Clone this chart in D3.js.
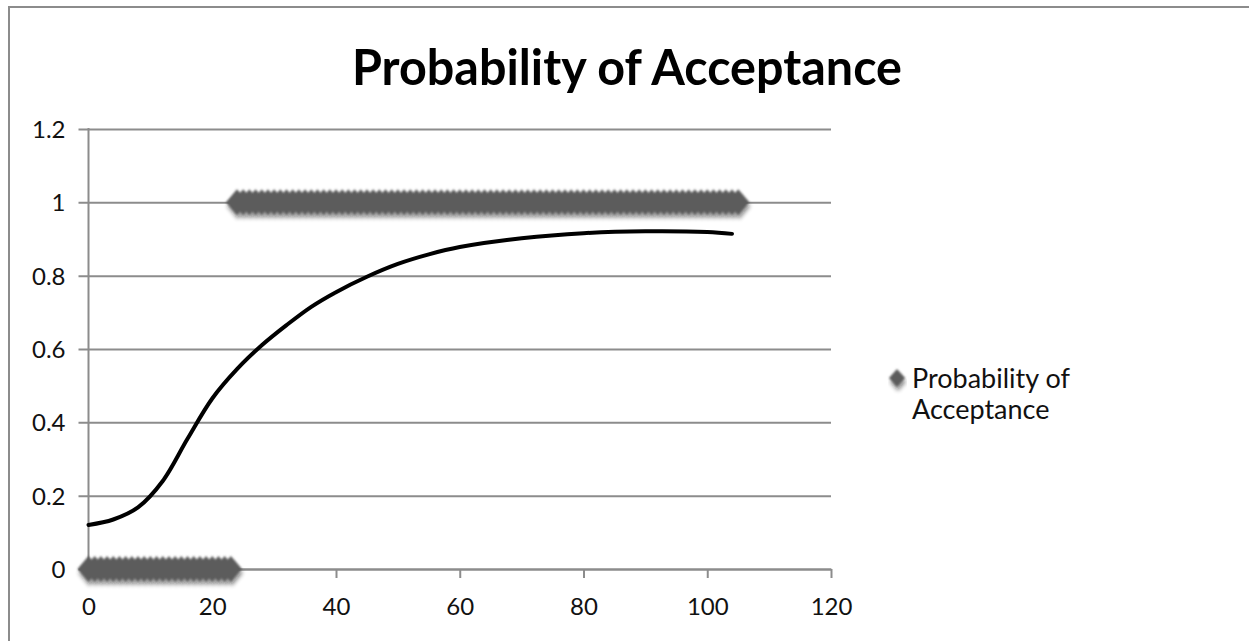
<!DOCTYPE html>
<html>
<head>
<meta charset="utf-8">
<script src="https://cdn.jsdelivr.net/npm/d3@7"></script>
<style>
  html, body { margin: 0; padding: 0; background: #fff; }
  svg { display: block; }
</style>
</head>
<body>
<svg id="chart" width="1249" height="641"></svg>
<script>
// Observations: quantity (x) and accepted (1) / rejected (0) outcome
const rejectedX = [0,1,2,3,4,5,6,7,8,9,10,11,12,13,14,15,16,17,18,19,20,21,22,23];
const acceptedX = [24,25,26,27,28,29,30,31,32,33,34,35,36,37,38,39,40,41,42,43,44,45,46,47,48,49,
  50,51,52,53,54,55,56,57,58,59,60,61,62,63,64,65,66,67,68,69,70,71,72,73,74,75,76,77,78,79,
  80,81,82,83,84,85,86,87,88,89,90,91,92,93,94,95,96,97,98,99,100,101,102,103,104,105];

// Fitted probability curve
const fitX = [0, 4, 8, 12, 16, 20, 24, 28, 32, 36, 40, 45, 50, 55, 60, 70, 80, 90, 100, 104];
const fitY = [0.12, 0.135, 0.168, 0.24, 0.355, 0.465, 0.545, 0.61, 0.665, 0.715, 0.755, 0.797, 0.832, 0.858, 0.878, 0.902, 0.916, 0.921, 0.919, 0.914];

const xTicks = [0, 20, 40, 60, 80, 100, 120];
const yTicks = [0, 0.2, 0.4, 0.6, 0.8, 1, 1.2];
const yTickLabels = ["0", "0.2", "0.4", "0.6", "0.8", "1", "1.2"];
const xTickLabels = ["0", "20", "40", "60", "80", "100", "120"];

const titleText = "Probability of Acceptance";
const legendLines = ["Probability of", "Acceptance"];

const svg = d3.select("#chart");
const gridColor = "#8c8c8c";

const x = d3.scaleLinear().domain([0, 120]).range([88.5, 831]);
const y = d3.scaleLinear().domain([0, 1.2]).range([569, 129]);

// Chart frame
svg.append("path")
  .attr("d", "M9,641 V7 H1249")
  .attr("fill", "none")
  .attr("stroke", gridColor)
  .attr("stroke-width", 2);

// Title
svg.append("text")
  .attr("x", 627).attr("y", 85)
  .attr("text-anchor", "middle")
  .attr("font-family", "Lato, 'Open Sans', sans-serif")
  .attr("font-weight", "bold")
  .attr("font-size", 49)
  .attr("textLength", 550)
  .attr("lengthAdjust", "spacingAndGlyphs")
  .attr("fill", "#000")
  .text(titleText);

// Horizontal gridlines via a left axis with full-width ticks
const yAxis = d3.axisLeft(y)
  .tickValues(yTicks)
  .tickSizeInner(-(x(120) - x(0)))
  .tickSizeOuter(0)
  .tickFormat((d, i) => yTickLabels[i]);

const gy = svg.append("g").attr("transform", `translate(${x(0)},0)`).call(yAxis);
gy.select(".domain").remove();
gy.selectAll(".tick line").attr("stroke", gridColor).attr("stroke-width", 2).attr("x1", -10);
gy.selectAll(".tick text")
  .attr("x", -23)
  .attr("dy", "0.35em")
  .attr("font-family", "Lato, 'Open Sans', sans-serif")
  .attr("font-size", 24)
  .attr("fill", "#111");

// Vertical axis line
svg.append("line")
  .attr("x1", x(0)).attr("x2", x(0))
  .attr("y1", y(1.2) - 1).attr("y2", y(0) + 1)
  .attr("stroke", gridColor).attr("stroke-width", 2);

// Bottom axis
const xAxis = d3.axisBottom(x)
  .tickValues(xTicks)
  .tickSize(9)
  .tickSizeOuter(0)
  .tickFormat((d, i) => xTickLabels[i]);
const gx = svg.append("g").attr("transform", `translate(0,${y(0)})`).call(xAxis);
gx.select(".domain").attr("stroke", gridColor).attr("stroke-width", 2);
gx.selectAll(".tick line").attr("stroke", gridColor).attr("stroke-width", 2);
gx.selectAll(".tick text")
  .attr("y", 29)
  .attr("dy", "0.71em")
  .attr("font-family", "Lato, 'Open Sans', sans-serif")
  .attr("font-size", 24)
  .attr("fill", "#111");

// Marker filters: soft edge plus a drop shadow
const defs = svg.append("defs");
const f = defs.append("filter").attr("id", "mk").attr("x", "-10%").attr("y", "-40%").attr("width", "120%").attr("height", "200%");
f.append("feGaussianBlur").attr("in", "SourceAlpha").attr("stdDeviation", 2.2).attr("result", "b");
f.append("feOffset").attr("in", "b").attr("dx", 1).attr("dy", 4).attr("result", "o");
f.append("feComponentTransfer").attr("in", "o").attr("result", "s")
  .append("feFuncA").attr("type", "linear").attr("slope", 0.45);
f.append("feGaussianBlur").attr("in", "SourceGraphic").attr("stdDeviation", 1).attr("result", "g");
const fm = f.append("feMerge");
fm.append("feMergeNode").attr("in", "s");
fm.append("feMergeNode").attr("in", "g");

const diamond = (hw, hh) => `M${-hw},0 L0,${-hh} L${hw},0 L0,${hh} Z`;
const markerColor = "#5c5c5c";

const points = rejectedX.map(v => ({ x: v, y: 0 })).concat(acceptedX.map(v => ({ x: v, y: 1 })));
svg.append("g").attr("filter", "url(#mk)")
  .selectAll("path")
  .data(points)
  .join("path")
  .attr("d", diamond(11, 13))
  .attr("transform", d => `translate(${x(d.x)},${y(d.y)})`)
  .attr("fill", markerColor);

// Fitted curve
const fit = fitX.map((v, i) => ({ x: v, y: fitY[i] }));
svg.append("path")
  .datum(fit)
  .attr("fill", "none")
  .attr("stroke", "#000")
  .attr("stroke-width", 4)
  .attr("stroke-linecap", "round")
  .attr("d", d3.line().x(d => x(d.x)).y(d => y(d.y)).curve(d3.curveCatmullRom.alpha(0.5)));

// Legend
const lg = svg.append("g");
lg.append("path")
  .attr("d", diamond(8, 9))
  .attr("transform", "translate(897,378)")
  .attr("fill", markerColor)
  .attr("filter", "url(#mk)");
lg.selectAll("text")
  .data(legendLines)
  .join("text")
  .attr("x", 912)
  .attr("y", (d, i) => 388 + i * 31)
  .attr("font-family", "Lato, 'Open Sans', sans-serif")
  .attr("font-size", 27)
  .attr("fill", "#111")
  .text(d => d);
</script>
</body>
</html>
